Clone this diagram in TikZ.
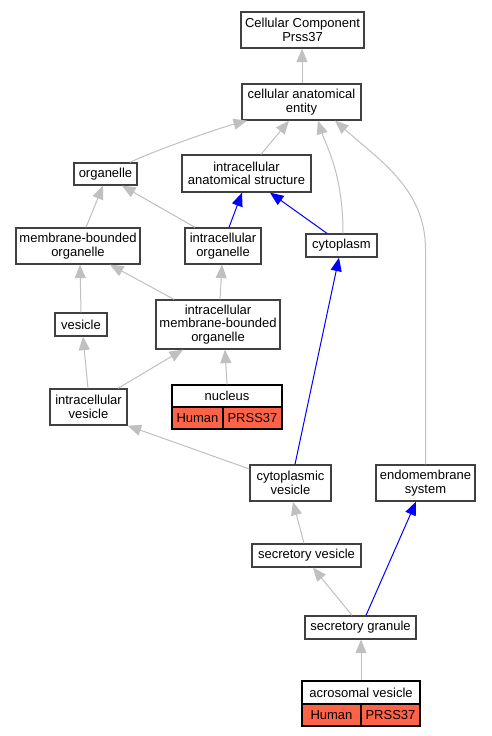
\documentclass[tikz,border=0pt]{standalone}
\usepackage{fontspec}
\setmainfont{Liberation Sans}
\usetikzlibrary{arrows.meta}
\definecolor{edgegray}{HTML}{C0C0C0}
\definecolor{nodeborder}{HTML}{404040}
\definecolor{hlred}{HTML}{FF6347}
\definecolor{isblue}{HTML}{0000FF}
\begin{document}
\begin{tikzpicture}[x=1pt,y=-1pt,
  lbl/.style={font=\fontsize{13}{13.6}\selectfont},
  box/.style={lbl,draw=nodeborder,line width=1.3pt,fill=white,inner sep=0pt,align=center},
  topcell/.style={lbl,draw=black,line width=1.2pt,fill=white,inner sep=0pt,minimum height=22pt},
  cell/.style={lbl,draw=black,line width=1.2pt,fill=hlred,inner sep=0pt,minimum height=22pt},
  isa/.style={draw=edgegray,line width=1pt,-{Triangle[length=13.5pt,width=11pt]}},
  partof/.style={draw=isblue,line width=1pt,-{Triangle[length=13.5pt,width=11pt]}}
]
\useasboundingbox (0,0) rectangle (491,736);
\fill[white] (0,0) rectangle (491,736);

% nodes
\node[box,minimum width=123pt,minimum height=36pt] (ccp) at (302.5,30) {Cellular Component\\Prss37};
\node[box,minimum width=119pt,minimum height=36pt] (cae) at (301.5,102) {cellular anatomical\\entity};
\node[box,minimum width=63pt,minimum height=22pt] (org) at (105.5,174) {organelle};
\node[box,minimum width=129pt,minimum height=37pt] (ias) at (246.5,173.5) {intracellular\\anatomical structure};
\node[box,minimum width=124pt,minimum height=36pt] (mbo) at (78,246) {membrane-bounded\\organelle};
\node[box,minimum width=76pt,minimum height=36pt] (io) at (223,246) {intracellular\\organelle};
\node[box,minimum width=71pt,minimum height=23pt] (cyt) at (341.5,245.5) {cytoplasm};
\node[box,minimum width=52pt,minimum height=23pt] (ves) at (81,324.5) {vesicle};
\node[box,minimum width=124pt,minimum height=49pt] (imbo) at (218,324.5) {intracellular\\membrane-bounded\\organelle};
\node[box,minimum width=77pt,minimum height=36pt] (iv) at (88.5,407) {intracellular\\vesicle};
\node[topcell,minimum width=110pt] (nuc) at (227,396) {nucleus};
\node[cell,minimum width=51pt] (nuch) at (197.5,418) {Human};
\node[cell,minimum width=59pt] (nucp) at (252.5,418) {PRSS37};
\node[box,minimum width=81pt,minimum height=36pt] (cv) at (290.5,483) {cytoplasmic\\vesicle};
\node[box,minimum width=99pt,minimum height=36pt] (ems) at (425.5,483) {endomembrane\\system};
\node[box,minimum width=109pt,minimum height=23pt] (sv) at (306.5,555.5) {secretory vesicle};
\node[box,minimum width=111pt,minimum height=23pt] (sg) at (360.5,627.5) {secretory granule};
\node[topcell,minimum width=118pt,minimum height=23pt] (av) at (361,692.5) {acrosomal vesicle};
\node[cell,minimum width=59pt] (avh) at (331.5,715) {Human};
\node[cell,minimum width=59pt] (avp) at (390.5,715) {PRSS37};

% edges
\draw[isa] ([xshift=0.5pt]cae.north) -- ([xshift=-0.5pt]ccp.south);
\draw[isa] ([xshift=24.5pt]org.north) .. controls +(20,-10) and +(-30,8) .. ([xshift=-54.5pt]cae.south);
\draw[isa] ([xshift=14.5pt]ias.north) -- ([xshift=-12.5pt]cae.south);
\draw[isa] ([xshift=1.5pt]cyt.north) .. controls +(0,-60) and +(8,25) .. ([xshift=16.5pt]cae.south);
\draw[isa] (ems.north) -- ++(0,-215) .. controls +(0,-60) and +(45,40) .. ([xshift=33.5pt]cae.south);
\draw[isa] ([xshift=8pt]mbo.north) -- ([xshift=-2.5pt]org.south);
\draw[isa] ([xshift=-28pt]io.north) -- ([xshift=16.5pt]org.south);
\draw[partof] ([xshift=6pt]io.north) -- ([xshift=-4.5pt]ias.south);
\draw[partof] ([xshift=-14.5pt]cyt.north) -- ([xshift=23.5pt]ias.south);
\draw[isa] (ves.north) -- ([xshift=2pt]mbo.south);
\draw[isa] ([xshift=-44pt]imbo.north) -- ([xshift=32pt]mbo.south);
\draw[isa] ([xshift=2pt]imbo.north) -- ([xshift=-1pt]io.south);
\draw[isa] ([xshift=-0.5pt]iv.north) -- ([xshift=2pt]ves.south);
\draw[isa] ([xshift=29.5pt]iv.north) -- ([xshift=-35pt]imbo.south);
\draw[isa] (nuc.north) -- ([xshift=7pt]imbo.south);
\draw[isa] ([yshift=14pt]cv.west) -- (iv.south east);
\draw[partof] ([xshift=4.5pt]cv.north) -- ([xshift=-2.5pt]cyt.south);
\draw[isa] ([xshift=-2.5pt]sv.north) -- ([xshift=2.5pt]cv.south);
\draw[isa] ([xshift=-8.5pt]sg.north) -- ([xshift=6.5pt]sv.south);
\draw[partof] ([xshift=5.5pt]sg.north) -- ([xshift=-9.5pt]ems.south);
\draw[isa] (av.north) -- ([xshift=0.5pt]sg.south);
\end{tikzpicture}
\end{document}
